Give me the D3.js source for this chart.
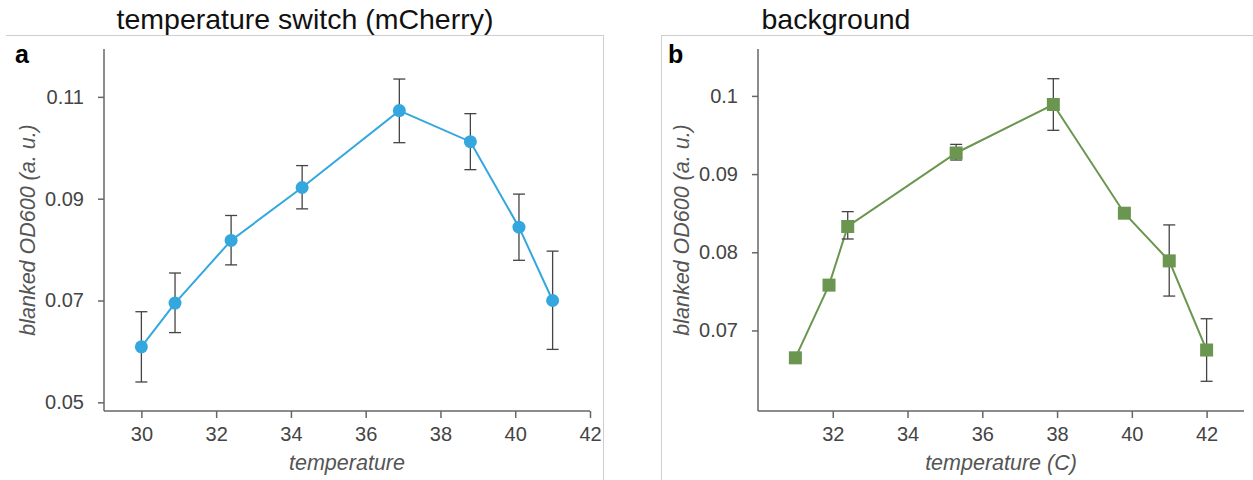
<!DOCTYPE html>
<html>
<head>
<meta charset="utf-8">
<script src="https://cdn.jsdelivr.net/npm/d3@7"></script>
<style>
  body { margin: 0; background: #fff; }
  svg { display: block; font-family: "Liberation Sans", Arial, sans-serif; }
  .axis path, .axis line { stroke: #666; stroke-width: 1.5; }
  .axis text { fill: #444; font-size: 20px; }
</style>
</head>
<body>
<script>
"use strict";

// panel a : temperature switch (mCherry)
const tempA = [30, 30.9, 32.4, 34.3, 36.9, 38.8, 40.1, 41];
const odA   = [0.0609, 0.0695, 0.0818, 0.0922, 0.1073, 0.1012, 0.0844, 0.0700];
const lowA  = [0.0540, 0.0637, 0.0770, 0.0880, 0.1010, 0.0957, 0.0779, 0.0604];
const highA = [0.0678, 0.0754, 0.0867, 0.0965, 0.1135, 0.1067, 0.0909, 0.0797];
const xTicksA = [30, 32, 34, 36, 38, 40, 42];
const yTicksA = [0.05, 0.07, 0.09, 0.11];

// panel b : background
const tempB = [31, 31.9, 32.4, 35.3, 37.9, 39.8, 41, 42];
const odB   = [0.0665, 0.0758, 0.0833, 0.0927, 0.0989, 0.0850, 0.0789, 0.0675];
const lowB  = [0.0663, 0.0756, 0.0817, 0.0918, 0.0956, 0.0848, 0.0744, 0.0635];
const highB = [0.0667, 0.0760, 0.0852, 0.0938, 0.1022, 0.0852, 0.0835, 0.0715];
const xTicksB = [32, 34, 36, 38, 40, 42];
const yTicksB = [0.07, 0.08, 0.09, 0.1];

const width = 1253;
const height = 480;

let svg = d3.select("body").append("svg")
    .attr("width", width)
    .attr("height", height);

// light panel frames
let frame = svg.append("g").attr("stroke", "#cfcfcf").attr("stroke-width", 1);
frame.append("line").attr("x1", 6).attr("x2", 603).attr("y1", 35.5).attr("y2", 35.5);
frame.append("line").attr("x1", 603.5).attr("x2", 603.5).attr("y1", 35).attr("y2", height);
frame.append("line").attr("x1", 661.5).attr("x2", 661.5).attr("y1", 35).attr("y2", height);
frame.append("line").attr("x1", 661).attr("x2", width).attr("y1", 35.5).attr("y2", 35.5);

function panel(opt) {
    let x = d3.scaleLinear().domain(opt.xDomain).range([opt.left, opt.right]);
    let y = d3.scaleLinear().domain(opt.yDomain).range([411, 49]);

    let g = svg.append("g");

    g.append("text")
        .attr("x", opt.titleX).attr("y", 29)
        .attr("text-anchor", "middle")
        .style("font-size", "28.5px").style("fill", "#111")
        .text(opt.title);

    g.append("text")
        .attr("x", opt.letterX).attr("y", 63)
        .style("font-size", "25px").style("font-weight", "bold").style("fill", "#000")
        .text(opt.letter);

    g.append("g").attr("class", "axis")
        .attr("transform", "translate(0,411)")
        .call(d3.axisBottom(x).tickValues(opt.xTicks).tickSize(7).tickPadding(9).tickSizeOuter(7))
        .call(a => a.select(".domain").attr("d", "M" + opt.left + ",0H" + opt.right));

    g.append("g").attr("class", "axis")
        .attr("transform", "translate(" + opt.left + ",0)")
        .call(d3.axisLeft(y).tickValues(opt.yTicks).tickSize(6).tickPadding(14)
            .tickFormat(d => String(+d.toFixed(2))))
        .call(a => a.select(".domain").attr("d", "M0,49V411"));

    g.append("text")
        .attr("transform", "translate(" + opt.yLabelX + ",230) rotate(-90)")
        .attr("text-anchor", "middle")
        .style("font-size", "21.5px").style("font-style", "italic").style("fill", "#555")
        .text("blanked OD600 (a. u.)");

    g.append("text")
        .attr("x", (opt.left + opt.right) / 2).attr("y", 470)
        .attr("text-anchor", "middle")
        .style("font-size", "21.5px").style("font-style", "italic").style("fill", "#555")
        .text(opt.xLabel);

    let idx = d3.range(opt.temps.length);

    let line = d3.line()
        .x(i => x(opt.temps[i]))
        .y(i => y(opt.vals[i]));

    g.append("path")
        .datum(idx)
        .attr("d", line)
        .attr("fill", "none")
        .attr("stroke", opt.color)
        .attr("stroke-width", 2);

    let err = g.append("g").attr("stroke", "#444").attr("stroke-width", 1.3);
    idx.forEach(i => {
        let cx = x(opt.temps[i]);
        err.append("line").attr("x1", cx).attr("x2", cx)
            .attr("y1", y(opt.low[i])).attr("y2", y(opt.high[i]));
        err.append("line").attr("x1", cx - 6).attr("x2", cx + 6)
            .attr("y1", y(opt.low[i])).attr("y2", y(opt.low[i]));
        err.append("line").attr("x1", cx - 6).attr("x2", cx + 6)
            .attr("y1", y(opt.high[i])).attr("y2", y(opt.high[i]));
    });

    if (opt.shape === "circle") {
        g.selectAll("circle.pt")
            .data(idx)
            .enter()
            .append("circle")
            .attr("class", "pt")
            .attr("cx", i => x(opt.temps[i]))
            .attr("cy", i => y(opt.vals[i]))
            .attr("r", 6.5)
            .style("fill", opt.color);
    } else {
        g.selectAll("rect.pt")
            .data(idx)
            .enter()
            .append("rect")
            .attr("class", "pt")
            .attr("x", i => x(opt.temps[i]) - 6.5)
            .attr("y", i => y(opt.vals[i]) - 6.5)
            .attr("width", 13)
            .attr("height", 13)
            .style("fill", opt.color);
    }
}

panel({
    title: "temperature switch (mCherry)", titleX: 305,
    letter: "a", letterX: 15,
    xDomain: [29, 42], left: 104, right: 590,
    yDomain: [0.0483, 0.1194],
    xTicks: xTicksA, yTicks: yTicksA,
    yLabelX: 35, xLabel: "temperature",
    temps: tempA, vals: odA, low: lowA, high: highA,
    color: "#35a7df", shape: "circle"
});

panel({
    title: "background", titleX: 836,
    letter: "b", letterX: 668,
    xDomain: [30, 43], left: 758, right: 1244,
    yDomain: [0.0597, 0.106],
    xTicks: xTicksB, yTicks: yTicksB,
    yLabelX: 689, xLabel: "temperature (C)",
    temps: tempB, vals: odB, low: lowB, high: highB,
    color: "#6a9650", shape: "square"
});
</script>
</body>
</html>
